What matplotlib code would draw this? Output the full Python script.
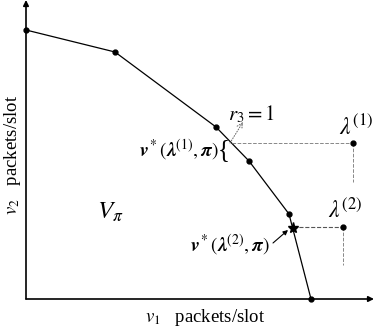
import matplotlib
matplotlib.use("Agg")
import matplotlib.pyplot as plt

plt.rcParams["font.family"] = ["Liberation Serif", "DejaVu Serif"]
plt.rcParams["mathtext.fontset"] = "stix"

# boundary of the region V_pi (packets/slot)
v1_pts = [0.0, 0.89, 1.90, 2.23, 2.63, 2.85]
v2_pts = [2.69, 2.47, 1.72, 1.38, 0.85, 0.0]

# arrival rate points and projection
lam1 = (3.27, 1.56)
lam2 = (3.17, 0.72)
proj1 = (2.06, 1.56)
star2 = (2.67, 0.71)
lam1_drop = 1.17
lam2_drop = 0.34

fig = plt.figure(figsize=(3.74, 3.30), dpi=100)
ax = fig.add_axes([0, 0, 1, 1])
ax.set_xlim(-0.26, 3.48)
ax.set_ylim(-0.31, 2.99)
ax.axis("off")

# axes with arrows
ax.annotate("", xy=(3.48, 0), xytext=(0, 0),
            arrowprops=dict(arrowstyle="-|>", lw=1.2, color="black",
                            mutation_scale=8, shrinkA=0, shrinkB=0))
ax.annotate("", xy=(0, 2.99), xytext=(0, 0),
            arrowprops=dict(arrowstyle="-|>", lw=1.2, color="black",
                            mutation_scale=8, shrinkA=0, shrinkB=0))

ax.plot(v1_pts, v2_pts, color="black", lw=0.9, marker="o", ms=3.5)

# dashed guides
ax.plot([proj1[0], lam1[0]], [lam1[1], lam1[1]], ls="--", color="#888888", lw=0.7)
ax.plot([lam1[0], lam1[0]], [lam1[1], lam1_drop], ls="--", color="#888888", lw=0.7)
ax.plot([star2[0], lam2[0]], [lam2[1], lam2[1]], ls="--", color="#555555", lw=0.8)
ax.plot([lam2[0], lam2[0]], [lam2[1], lam2_drop], ls="--", color="#888888", lw=0.7)
ax.plot(*lam1, "o", color="black", ms=3.5)
ax.plot(*lam2, "o", color="black", ms=3.5)
ax.plot(*star2, marker="*", color="black", ms=8)

ax.text(3.30, 1.71, r"$\lambda^{(1)}$", fontsize=17, ha="center", va="center")
ax.text(3.19, 0.89, r"$\lambda^{(2)}$", fontsize=17, ha="center", va="center")

ax.text(2.25, 1.85, r"$r_3 = 1$", fontsize=15, ha="center", va="center")
ax.annotate("", xy=(2.17, 1.77), xytext=(2.04, 1.56),
            arrowprops=dict(arrowstyle="->", ls=":", lw=0.7, color="#666666",
                            shrinkA=0, shrinkB=0))

ax.text(1.93, 1.49, r"$\mathbfit{v}^*(\mathbfit{\lambda}^{(1)},\mathbfit{\pi})$",
        fontsize=14, ha="right", va="center")
ax.text(1.98, 1.49, "{", fontsize=18, ha="center", va="center")

ax.text(2.04, 0.54, r"$\mathbfit{v}^*(\mathbfit{\lambda}^{(2)},\mathbfit{\pi})$",
        fontsize=14, ha="center", va="center")
ax.annotate("", xy=(2.62, 0.69), xytext=(2.47, 0.56),
            arrowprops=dict(arrowstyle="-|>", lw=0.8, color="black",
                            mutation_scale=7, shrinkA=0, shrinkB=0))

ax.text(0.84, 0.87, r"$V_\pi$", fontsize=18, ha="center", va="center")

ax.text(1.79, -0.18, r"$v_1$   packets/slot", fontsize=13.5, ha="center", va="center")
ax.text(-0.13, 1.44, r"$v_2$   packets/slot", fontsize=13.5, ha="center",
        va="center", rotation=90)

fig.savefig("out.png", dpi=100)
